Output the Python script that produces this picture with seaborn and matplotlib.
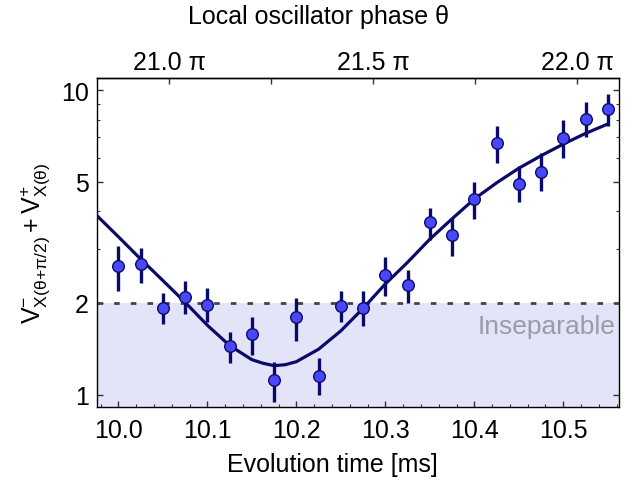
import numpy as np
import matplotlib
matplotlib.use("Agg")
import matplotlib.pyplot as plt
import matplotlib.ticker as mticker
import seaborn as sns
import pandas as pd

# ---- data ----
time_ms = [10.0, 10.025, 10.05, 10.075, 10.1, 10.125, 10.15, 10.175, 10.2, 10.225,
           10.25, 10.275, 10.3, 10.325, 10.35, 10.375, 10.4, 10.425, 10.45, 10.475,
           10.5, 10.525, 10.55]
variance = [2.64, 2.68, 1.93, 2.10, 1.97, 1.44, 1.58, 1.115, 1.80, 1.15,
            1.96, 1.93, 2.48, 2.29, 3.69, 3.35, 4.38, 6.70, 4.92, 5.40,
            6.98, 8.06, 8.65]
err_hi = [3.08, 3.03, 2.15, 2.37, 2.24, 1.61, 1.80, 1.28, 2.08, 1.32,
          2.19, 2.19, 2.83, 2.57, 4.10, 3.80, 4.98, 7.64, 5.62, 6.20,
          7.98, 9.12, 9.71]
err_lo = [2.19, 2.32, 1.70, 1.84, 1.73, 1.27, 1.35, 0.944, 1.50, 1.00,
          1.73, 1.68, 2.11, 2.00, 3.22, 2.86, 3.77, 5.76, 4.30, 4.65,
          5.97, 7.03, 7.61]

fit_time = [9.974, 10.0, 10.0244, 10.05, 10.075, 10.1, 10.125, 10.15, 10.1625,
            10.175, 10.1875, 10.2, 10.225, 10.25, 10.275, 10.3, 10.325, 10.35,
            10.375, 10.4, 10.425, 10.45, 10.475, 10.5, 10.525, 10.55]
fit_value = [3.92, 3.30, 2.80, 2.37, 2.01, 1.69, 1.45, 1.303, 1.268,
             1.245, 1.254, 1.283, 1.41, 1.62, 1.92, 2.31, 2.72, 3.24,
             3.78, 4.39, 4.96, 5.54, 6.09, 6.65, 7.21, 7.74]

threshold = 2.0
x_ticks = [10.0, 10.1, 10.2, 10.3, 10.4, 10.5]
y_ticks = [1, 2, 5, 10]
phase_ticks = [21.0, 21.25, 21.5, 21.75, 22.0]
phase_labels = ["21.0 π", "", "21.5 π", "", "22.0 π"]

# ---- style ----
sns.set_theme(style="ticks")
plt.rcParams["font.family"] = ["Liberation Sans", "DejaVu Sans"]
plt.rcParams["mathtext.fontset"] = "custom"
plt.rcParams["mathtext.rm"] = "Liberation Sans"
plt.rcParams["mathtext.it"] = "Liberation Sans:italic"
plt.rcParams["mathtext.default"] = "regular"
for k in ["text.color", "axes.labelcolor", "xtick.color", "ytick.color", "axes.edgecolor"]:
    plt.rcParams[k] = "black"
plt.rcParams["axes.linewidth"] = 1.0

FS = 18
navy = "#0a0a68"
face = "#4848f8"

fig = plt.figure(figsize=(6.35, 4.85), dpi=100)
ax = fig.add_axes([0.1528, 0.1588, 0.822, 0.6783])

ax.set_yscale("log")
ax.set_xlim(9.976, 10.5626)
ax.set_ylim(0.911, 10.96)

# shaded inseparable region + threshold line
ax.axhspan(0.5, threshold, color="#e4e4f8", zorder=0, lw=0)
ax.axhline(threshold, color="#444444", lw=2.0, linestyle=(0, (2, 4)), zorder=1)

df_fit = pd.DataFrame({"t": fit_time, "v": fit_value})
sns.lineplot(data=df_fit, x="t", y="v", ax=ax, color=navy, lw=2.3, zorder=2)

v = np.array(variance)
ax.errorbar(time_ms, variance, yerr=[v - np.array(err_lo), np.array(err_hi) - v],
            fmt="none", ecolor=navy, elinewidth=2.4, capsize=0, zorder=3)
df_pts = pd.DataFrame({"t": time_ms, "v": variance})
sns.scatterplot(data=df_pts, x="t", y="v", ax=ax, s=70, color=face,
                edgecolor=navy, linewidth=1.0, zorder=4)

ax.text(0.994, 1.68, "Inseparable", transform=ax.get_yaxis_transform(),
        ha="right", va="center", fontsize=19, color="#9b9bab")

# axes ticks
ax.set_xticks(x_ticks)
ax.xaxis.set_major_formatter(mticker.FormatStrFormatter("%.1f"))
ax.xaxis.set_minor_locator(mticker.MultipleLocator(0.02))
ax.set_yticks(y_ticks)
ax.yaxis.set_major_formatter(mticker.FixedFormatter([str(t) for t in y_ticks]))
ax.yaxis.set_minor_locator(mticker.LogLocator(base=10, subs=(3, 4, 6, 7, 8, 9)))
ax.yaxis.set_minor_formatter(mticker.NullFormatter())
ax.tick_params(axis="both", which="major", direction="in", length=4.5, width=1,
               labelsize=FS, color="#333333", pad=6)
ax.tick_params(axis="x", which="major", pad=8)
ax.tick_params(axis="both", which="minor", direction="in", length=2.5, width=0.8,
               color="#333333")
ax.tick_params(axis="y", which="both", right=True)
ax.tick_params(axis="x", which="both", top=False)

ax.set_xlabel("Evolution time [ms]", fontsize=FS)
ax.xaxis.label.set_va("center")
ax.xaxis.set_label_coords(0.45, -0.173)
ax.set_ylabel(r"$V^{-}_{X(\theta{+}\pi/2)} + V^{+}_{X(\theta)}$", fontsize=FS, labelpad=6)

# top axis: local oscillator phase
t0, slope = 10.0573, 2.1815
def t2p(t):
    return 21.0 + (np.asarray(t) - t0) * slope
def p2t(p):
    return t0 + (np.asarray(p) - 21.0) / slope
sec = ax.secondary_xaxis("top", functions=(t2p, p2t))
sec.set_xticks(phase_ticks)
sec.set_xticklabels(phase_labels)
sec.tick_params(direction="in", length=4.5, width=1, labelsize=FS, color="#333333", pad=3)
fig.text(318 / 635, 1 - 17 / 485, "Local oscillator phase θ", fontsize=FS,
         ha="center", va="center")

fig.savefig("out.png", dpi=100)
